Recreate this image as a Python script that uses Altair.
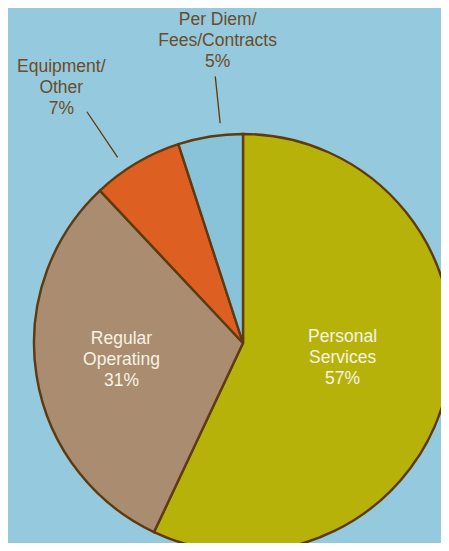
import altair as alt
import pandas as pd

categories = ["Personal Services", "Regular Operating", "Equipment/Other", "Per Diem/Fees/Contracts"]
shares = [57, 31, 7, 5]
label_lines = [["Personal", "Services"], ["Regular", "Operating"], ["Equipment/", "Other"], ["Per Diem/", "Fees/Contracts"]]
colors = ["#B7B20A", "#AA8C70", "#DD5F22", "#89C3D9"]

starts, ends = [], []
acc = 0
for v in shares:
    starts.append(acc)
    acc += v
    ends.append(acc)

df = pd.DataFrame({
    "category": categories,
    "share": shares,
    "start": starts,
    "end": ends,
    "mid": [(s + e) / 2 for s, e in zip(starts, ends)],
    "label": ["\n".join(lines + [f"{v}%"]) for lines, v in zip(label_lines, shares)],
})

CX, CY, R = 235, 335, 209
BROWN = "#5E3A0E"
FONT = "Liberation Sans"
theta_scale = alt.Scale(domain=[0, 100], range=[0, 6.283185307179586])

base = alt.Chart(df)

pie = base.mark_arc(stroke=BROWN, strokeWidth=2.4).encode(
    theta=alt.Theta("start:Q", scale=theta_scale, stack=None),
    theta2=alt.Theta2("end:Q"),
    radius=alt.value(R),
    color=alt.Color("category:N", scale=alt.Scale(domain=categories, range=colors), legend=None),
    x=alt.value(CX),
    y=alt.value(CY),
)

# label placement: (radius, dx, dy, color); dy moves the first line so the block is centred
placement = {
    "Personal Services": (100, 2, -28, "#F6F3E4"),
    "Regular Operating": (123, 0, -23, "#F6F3E4"),
    "Equipment/Other": (300, -29, -18, "#6B4C2A"),
    "Per Diem/Fees/Contracts": (290, 20, -37, "#6B4C2A"),
}

layers = [pie]
for cat, (rad, dx, dy, col) in placement.items():
    t = base.transform_filter(alt.datum.category == cat).mark_text(
        lineBreak="\n", font=FONT, fontSize=17.5, lineHeight=21,
        align="center", baseline="middle", dx=dx, dy=dy, color=col,
    ).encode(
        theta=alt.Theta("mid:Q", scale=theta_scale, stack=None),
        radius=alt.value(rad),
        text="label:N",
        x=alt.value(CX),
        y=alt.value(CY),
    )
    layers.append(t)

# leader lines: (theta shift from slice middle in %, inner radius, outer radius)
leaders = {
    "Equipment/Other": (-0.95, 224, 279),
    "Per Diem/Fees/Contracts": (0.85, 221, 268),
}
for cat, (sh, r1, r2) in leaders.items():
    ln = base.transform_filter(alt.datum.category == cat).transform_calculate(
        ang=alt.datum.mid + sh
    ).mark_arc(stroke=BROWN, strokeWidth=1.3, fillOpacity=0).encode(
        theta=alt.Theta("ang:Q", scale=theta_scale, stack=None),
        theta2=alt.Theta2("ang:Q"),
        radius=alt.value(r2),
        radius2=alt.value(r1),
        x=alt.value(CX),
        y=alt.value(CY),
    )
    layers.append(ln)

chart = alt.layer(*layers).properties(
    width=433, height=535, padding=0, autosize=alt.AutoSizeParams(type="none"),
    background="#95C9DD",
).configure_view(stroke=None)

chart.save("out.html", embed_options={"renderer": "svg", "actions": False})
